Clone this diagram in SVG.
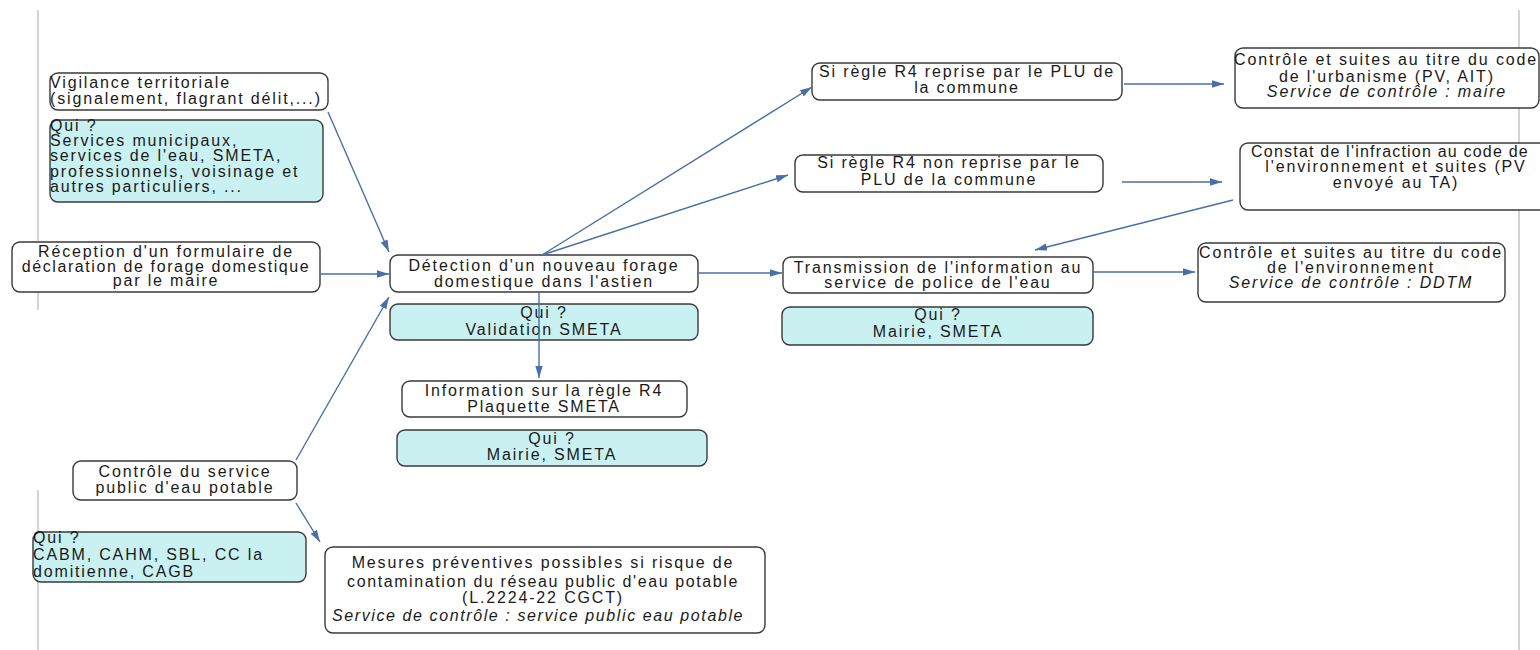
<svg xmlns="http://www.w3.org/2000/svg" width="1540" height="650" viewBox="0 0 1540 650">
<style>
.box{fill:#ffffff;stroke:#3a3a3a;stroke-width:1.4}
.qui{fill:#c9f1f1;stroke:#3a3a3a;stroke-width:1.4}
text{font-family:"Liberation Sans",Arial,sans-serif;font-size:16px;fill:#1a1a1a;letter-spacing:1.85px}
.c{text-anchor:middle}
.i{font-style:italic}
.con{stroke:#4a6fa8;stroke-width:1.4;fill:none;marker-end:url(#arr)}
.border{stroke:#c4c4c4;stroke-width:1.5}
</style>
<defs>
<marker id="arr" markerUnits="userSpaceOnUse" markerWidth="13" markerHeight="9" refX="12" refY="4.5" orient="auto">
<path d="M0,0.8 L12,4.5 L0,8.2 Z" fill="#4a6fa8"/>
</marker>
</defs>
<rect width="1540" height="650" fill="#ffffff"/>
<g id="page-borders">
<line class="border" x1="38" y1="10" x2="38" y2="310"/>
<line class="border" x1="38" y1="490" x2="38" y2="650"/>
<line class="border" x1="1519" y1="10" x2="1519" y2="650"/>
</g>
<g id="vigilance">
<rect class="box" x="50" y="73" width="278" height="37" rx="8"/>
<text x="50" y="88">Vigilance territoriale</text>
<text x="50" y="104">(signalement, flagrant délit,...)</text>
</g>
<g id="qui-vigilance">
<rect class="qui" x="50" y="120" width="273" height="82" rx="8"/>
<text x="50" y="131">Qui ?</text>
<text x="50" y="146">Services municipaux,</text>
<text x="50" y="161">services de l'eau, SMETA,</text>
<text x="50" y="177">professionnels, voisinage et</text>
<text x="50" y="192">autres particuliers, ...</text>
</g>
<g id="reception">
<rect class="box" x="12" y="242" width="308" height="50" rx="8"/>
<text class="c" x="166" y="257">Réception d'un formulaire de</text>
<text class="c" x="166" y="272" style="letter-spacing:1.6px">déclaration de forage domestique</text>
<text class="c" x="166" y="286">par le maire</text>
</g>
<g id="detection">
<rect class="box" x="390" y="255" width="308" height="37" rx="8"/>
<text class="c" x="544" y="271">Détection d'un nouveau forage</text>
<text class="c" x="544" y="287">domestique dans l'astien</text>
</g>
<g id="qui-validation">
<rect class="qui" x="390" y="304" width="308" height="36" rx="8"/>
<text class="c" x="544" y="318">Qui ?</text>
<text class="c" x="544" y="335">Validation SMETA</text>
</g>
<g id="information-r4">
<rect class="box" x="402" y="381" width="285" height="36" rx="8"/>
<text class="c" x="544" y="396">Information sur la règle R4</text>
<text class="c" x="544" y="412">Plaquette SMETA</text>
</g>
<g id="qui-information">
<rect class="qui" x="397" y="430" width="310" height="36" rx="8"/>
<text class="c" x="552" y="444">Qui ?</text>
<text class="c" x="552" y="460">Mairie, SMETA</text>
</g>
<g id="controle-service-public">
<rect class="box" x="73" y="461" width="224" height="39" rx="8"/>
<text class="c" x="185" y="477">Contrôle du service</text>
<text class="c" x="185" y="493">public d'eau potable</text>
</g>
<g id="qui-service-public">
<rect class="qui" x="33" y="532" width="273" height="50" rx="8"/>
<text x="33" y="543">Qui ?</text>
<text x="33" y="560">CABM, CAHM, SBL, CC la</text>
<text x="33" y="577">domitienne, CAGB</text>
</g>
<g id="mesures-preventives">
<rect class="box" x="325" y="547" width="440" height="86" rx="8"/>
<text class="c" x="543" y="568">Mesures préventives possibles si risque de</text>
<text class="c" x="543" y="587" style="letter-spacing:1.6px">contamination du réseau public d'eau potable</text>
<text class="c" x="543" y="603">(L.2224-22 CGCT)</text>
<text class="c i" x="538" y="621" style="letter-spacing:1.6px">Service de contrôle : service public eau potable</text>
</g>
<g id="si-reprise">
<rect class="box" x="812" y="63" width="310" height="37" rx="8"/>
<text class="c" x="967" y="77">Si règle R4 reprise par le PLU de</text>
<text class="c" x="967" y="93">la commune</text>
</g>
<g id="si-non-reprise">
<rect class="box" x="795" y="155" width="308" height="37" rx="8"/>
<text class="c" x="949" y="168">Si règle R4 non reprise par le</text>
<text class="c" x="949" y="185">PLU de la commune</text>
</g>
<g id="controle-urbanisme">
<rect class="box" x="1235" y="48" width="304" height="60" rx="8"/>
<text class="c" x="1386" y="65">Contrôle et suites au titre du code</text>
<text class="c" x="1387" y="82">de l'urbanisme (PV, AIT)</text>
<text class="c i" x="1387" y="97">Service de contrôle : maire</text>
</g>
<g id="constat-infraction">
<rect class="box" x="1240" y="143" width="312" height="67" rx="8"/>
<text class="c" x="1390" y="157" style="letter-spacing:1.2px">Constat de l'infraction au code de</text>
<text class="c" x="1396" y="172">l'environnement et suites (PV</text>
<text class="c" x="1396" y="188">envoyé au TA)</text>
</g>
<g id="transmission">
<rect class="box" x="783" y="257" width="310" height="36" rx="8"/>
<text class="c" x="938" y="273">Transmission de l'information au</text>
<text class="c" x="938" y="288">service de police de l'eau</text>
</g>
<g id="qui-transmission">
<rect class="qui" x="782" y="307" width="311" height="38" rx="8"/>
<text class="c" x="938" y="320">Qui ?</text>
<text class="c" x="938" y="337">Mairie, SMETA</text>
</g>
<g id="controle-environnement">
<rect class="box" x="1198" y="243" width="307" height="59" rx="8"/>
<text class="c" x="1351" y="258">Contrôle et suites au titre du code</text>
<text class="c" x="1351" y="273">de l'environnement</text>
<text class="c i" x="1351" y="288">Service de contrôle : DDTM</text>
</g>
<g id="connectors">
<line class="con" x1="328" y1="112" x2="389" y2="252"/>
<line class="con" x1="320" y1="274" x2="389" y2="274"/>
<line class="con" x1="296" y1="460" x2="389" y2="297"/>
<line class="con" x1="296" y1="503" x2="320" y2="542"/>
<line class="con" x1="539" y1="292" x2="539" y2="378"/>
<line class="con" x1="542" y1="255" x2="812" y2="87"/>
<line class="con" x1="542" y1="255" x2="788" y2="175"/>
<line class="con" x1="698" y1="273" x2="782" y2="273"/>
<line class="con" x1="1124" y1="84" x2="1224" y2="84"/>
<line class="con" x1="1122" y1="182" x2="1222" y2="182"/>
<line class="con" x1="1233" y1="200" x2="1035" y2="250"/>
<line class="con" x1="1093" y1="272" x2="1195" y2="272"/>
</g>
</svg>
